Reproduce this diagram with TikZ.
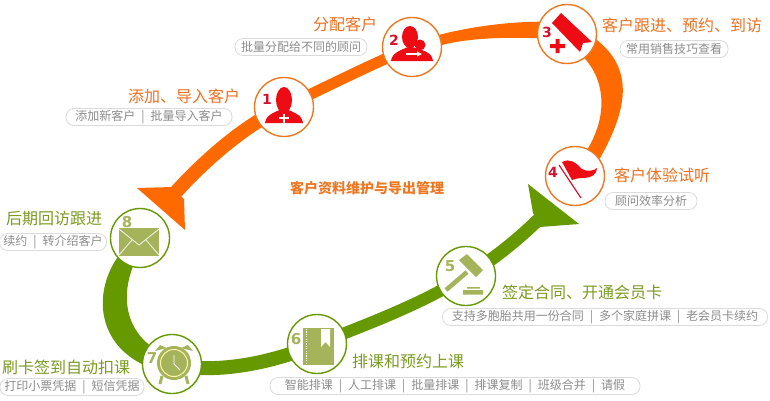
\documentclass[tikz,border=0pt]{standalone}
\usepackage{fontspec}
\setmainfont{Noto Sans CJK SC}
\newfontfamily\numfont{DejaVu Sans}
\usepackage{xcolor}
\usetikzlibrary{arrows.meta,positioning,calc,backgrounds}
\definecolor{roadO}{HTML}{FF6A00}
\definecolor{roadG}{HTML}{669900}
\definecolor{ringO}{HTML}{EE7722}
\definecolor{iconR}{HTML}{EE0C14}
\definecolor{numR}{HTML}{D4102A}
\definecolor{iconG}{HTML}{A5B35A}
\definecolor{titleO}{HTML}{EE7020}
\definecolor{titleG}{HTML}{7A9A20}
\newcommand{\barsep}{\hspace{6pt}|\hspace{6pt}}
\tikzset{
  stopO/.style={circle,draw=ringO,line width=1.4pt,fill=white,minimum size=59pt,inner sep=0pt},
  stopG/.style={circle,draw=roadG,line width=1.4pt,fill=white,minimum size=59pt,inner sep=0pt},
  titleA/.style={text=titleO,font=\fontsize{16}{18}\selectfont,inner sep=0pt},
  titleB/.style={text=titleG,font=\fontsize{16}{18}\selectfont,inner sep=0pt},
  pill/.style={draw=black!14,line width=0.8pt,fill=white,rounded corners=8pt,minimum height=17pt,inner sep=0pt,text=black!45,font=\fontsize{12}{14}\selectfont},
  numA/.style={text=numR,font=\numfont\bfseries\fontsize{14}{14}\selectfont,inner sep=0pt},
  numB/.style={text=iconG,font=\numfont\bfseries\fontsize{15}{15}\selectfont,inner sep=0pt}
}
\begin{document}
\begin{tikzpicture}[x=1pt,y=-1pt,>=Stealth]
    \useasboundingbox (0,0) rectangle (770,400);
    % labels
    \node[titleA] (title1) at (184,96) {添加、导入客户};
    \node[pill,minimum width=166pt] (pill1) at (149,117) {添加新客户\barsep 批量导入客户};
    \node[titleA] (title2) at (345,24) {分配客户};
    \node[pill,minimum width=132pt] (pill2) at (301,47) {批量分配给不同的顾问};
    \node[titleA] (title3) at (682,25) {客户跟进、预约、到访};
    \node[pill,minimum width=108pt] (pill3) at (674,49) {常用销售技巧查看};
    \node[titleA] (title4) at (662,175) {客户体验试听};
    \node[pill,minimum width=92pt] (pill4) at (651,201) {顾问效率分析};
    \node[titleB] (title5) at (582,292) {签定合同、开通会员卡};
    \node[pill,minimum width=325pt] (pill5) at (605,317) {支持多胞胎共用一份合同\barsep 多个家庭拼课\barsep 老会员卡续约};
    \node[titleB] (title6) at (408,361) {排课和预约上课};
    \node[pill,minimum width=370pt] (pill6) at (455,386) {智能排课\barsep 人工排课\barsep 批量排课\barsep 排课复制\barsep 班级合并\barsep 请假};
    \node[titleB] (title7) at (66,367) {刷卡签到自动扣课};
    \node[pill,minimum width=144pt] (pill7) at (72,387) {打印小票凭据\barsep 短信凭据};
    \node[titleB] (title8) at (54,218) {后期回访跟进};
    \node[pill,minimum width=107pt] (pill8) at (53,242) {续约\barsep 转介绍客户};
    \node[text=ringO,font=\bfseries\fontsize{14}{16}\selectfont,inner sep=0pt] (midtitle) at (367,188) {客户资料维护与导出管理};
    % stops
    \node[stopO] (n1) at (284,107) {};
    \node[stopO] (n2) at (412,47) {};
    \node[stopO] (n3) at (567,34) {};
    \node[stopO] (n4) at (575,176) {};
    \node[stopG] (n5) at (466,276) {};
    \node[stopG] (n6) at (317,344) {};
    \node[stopG] (n7) at (172,364) {};
    \node[stopG] (n8) at (140,238) {};
    % roads
    \coordinate (headO) at (176,192);
    \coordinate (headG) at (542,216);
    \begin{scope}[on background layer]
      \draw[roadO,line width=14pt] (n1.center) .. controls (245,125) and (205,160) .. (headO);
      \fill[roadO] (137,188) -- (172,187) -- (184,199) -- (185,230) -- cycle;
      \draw[roadO,line width=11pt] (n1.center) .. controls (330,85) and (370,65) .. (n2.center);
      \fill[roadO] (n2.24) .. controls (470,27) and (505,22) .. (n3.156) -- (n3.188) .. controls (505,37) and (470,38) .. (n2.4) -- cycle;
      \fill[roadO] (n3.-11) .. controls (632,68) and (630,105) .. (n4.35) -- (n4.65) .. controls (605,120) and (608,85) .. (n3.-54) -- cycle;
      \draw[roadG,line width=13pt] (n5.center) .. controls (490,262) and (518,240) .. (headG);
      \fill[roadG] (528,184) -- (533,213) -- (540,227) -- (579,224) -- cycle;
      \draw[roadG,line width=12pt] (n6.center) .. controls (365,325) and (420,305) .. (n5.center);
      \draw[roadG,line width=14pt] (n7.center) .. controls (200,372) and (255,370) .. (n6.center);
      \fill[roadG] (n8.221) .. controls (95,290) and (95,340) .. (n7.180) -- (n7.140) .. controls (125,325) and (122,295) .. (n8.256) -- cycle;
    \end{scope}
    % 1 person
    \node[numA] (num1) at (267,99) {1};
    \fill[iconR] (284,100) ellipse (8 and 13);
    \fill[iconR] (265,123) .. controls (266,114) and (276,112) .. (284,108) .. controls (292,112) and (302,114) .. (303,123) -- cycle;
    \draw[white,line width=1.5pt] (279,118) -- (289,118) (284,113.5) -- (284,122.5);
    % 2 two persons
    \node[numA] (num2) at (394,40) {2};
    \fill[iconR] (410,37) ellipse (8 and 11);
    \fill[iconR] (420,45) circle (5.5);
    \fill[iconR] (391,61) .. controls (392,52) and (402,50) .. (410,46) .. controls (418,50) and (432,50) .. (433,61) -- cycle;
    \draw[white,line width=2pt,-{Latex[length=5pt,width=6pt]}] (406,54) -- (422,54);
    % 3 ribbon
    \node[numA] (num3) at (547,32) {3};
    \fill[iconR] (552,23) -- (561,13) -- (592,42) -- (583,43) -- (580,52) -- cycle;
    \fill[iconR] (550,44) rectangle (565,48) (555.5,39) rectangle (559.5,53);
    % 4 flag
    \node[numA] (num4) at (553,172) {4};
    \fill[iconR] (562,162) .. controls (570,158) and (575,162) .. (582,169) .. controls (587,172) and (594,171) .. (597,168) .. controls (597,174) and (592,178) .. (582,178) .. controls (578,178) and (575,179) .. (572,180) -- cycle;
    \draw[numR,line width=1.2pt] (559,165) -- (581,198);
    % 5 gavel
    \node[numB] (num5) at (450,266) {5};
    \fill[iconG] (459,260) -- (467,254) -- (483,270) -- (476,277) -- cycle;
    \draw[iconG,line width=4.5pt] (467,272) -- (446,290);
    \fill[iconG] (463,290) rectangle (483,294.5) (467,287) rectangle (480,288.5);
    % 6 notebook
    \node[numB] (num6) at (296,339) {6};
    \fill[iconG] (303,328) rectangle (334,365);
    \draw[white,line width=1pt,dash pattern=on 1.2pt off 1.2pt] (306,329) -- (306,364);
    \fill[white] (321,329) -- (330,329) -- (330,347) -- (325.5,342) -- (321,347) -- cycle;
    % 7 clock
    \node[numB] (num7) at (152,358) {7};
    \draw[iconG,line width=3pt] (162,376) -- (160,384) (186,376) -- (188,384);
    \fill[iconG] (155,351) -- (160,345) -- (167,348) -- cycle (193,351) -- (188,345) -- (181,348) -- cycle;
    \fill[iconG] (174,363) circle (17);
    \draw[black!5!yellow!35,line width=1pt] (174,363) circle (13.5);
    \draw[white,line width=0.9pt] (174,355) -- (174,364) -- (180,370);
    % 8 envelope
    \node[numB] (num8) at (127,222) {8};
    \fill[iconG] (119,228) rectangle (159,256);
    \draw[white!80!iconG,line width=0.9pt] (119,229) -- (139,245) -- (159,229) (119,255) -- (132,240) (159,255) -- (146,240);
\end{tikzpicture}
\end{document}
